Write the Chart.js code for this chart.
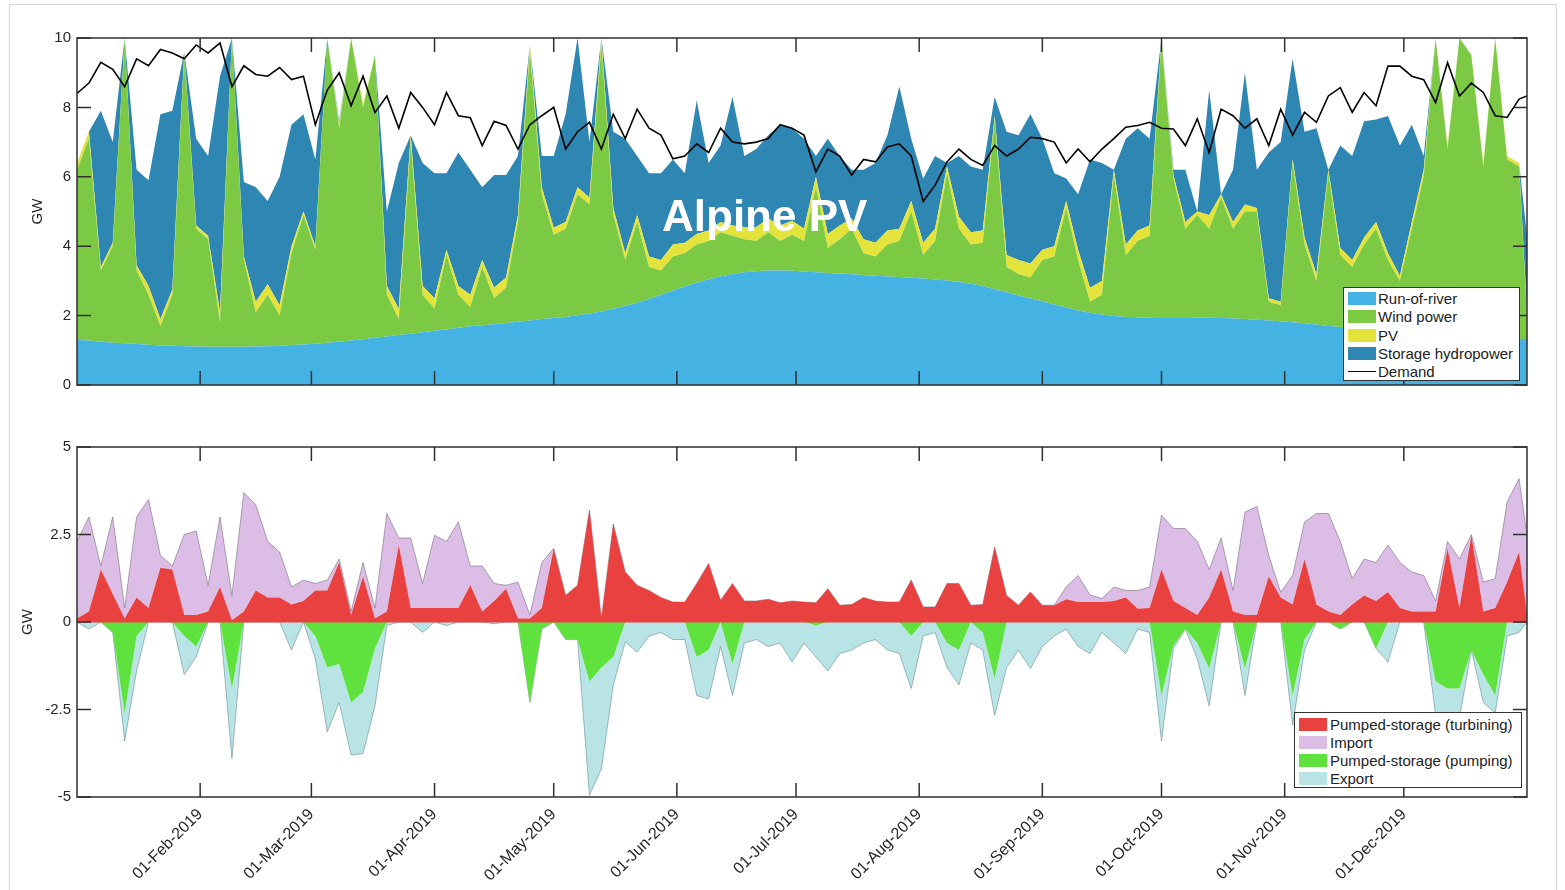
<!DOCTYPE html>
<html><head><meta charset="utf-8">
<script src="https://cdn.jsdelivr.net/npm/chart.js@4.4.1/dist/chart.umd.min.js"></script>
<style>
html,body{margin:0;padding:0;background:#fff;width:1565px;height:890px;overflow:hidden;font-family:"Liberation Sans",Arial,sans-serif;}
#frame{position:absolute;left:9px;top:4px;width:1548px;height:900px;border:1px solid #d6d6d6;box-sizing:border-box;}
#c1{position:absolute;left:0;top:0;}
#c2{position:absolute;left:0;top:410px;}
.legend{position:absolute;background:#fff;border:1px solid #333;box-sizing:border-box;}
.sw{position:absolute;width:28px;height:13px;}
.ln{position:absolute;width:28px;height:0;border-top:1.6px solid #000;}
.lt{position:absolute;font-size:15px;line-height:15px;color:#222;white-space:nowrap;}
#title{position:absolute;left:662px;top:194px;font:bold 44px "Liberation Sans",Arial,sans-serif;color:#fff;line-height:44px;white-space:nowrap;}
</style></head>
<body>
<div id="frame"></div>
<canvas id="c1" width="1565" height="400"></canvas>
<canvas id="c2" width="1565" height="480"></canvas>
<div id="title">Alpine PV</div>
<div class="legend" id="lg1" style="left:1343px;top:287px;width:177px;height:94px;"></div>
<div class="legend" id="lg2" style="left:1294px;top:712px;width:228px;height:76px;"></div>
<script>
// ---- data (GW), sampled every ~3 days, x = day of year 2019 ----
const days = [0,3,6,9,12,15,18,21,24,27,30,33,36,39,42,45,48,51,54,57,60,63,66,69,72,75,78,81,84,87,90,93,96,99,102,105,108,111,114,117,120,123,126,129,132,135,138,141,144,147,150,153,156,159,162,165,168,171,174,177,180,183,186,189,192,195,198,201,204,207,210,213,216,219,222,225,228,231,234,237,240,243,246,249,252,255,258,261,264,267,270,273,276,279,282,285,288,291,294,297,300,303,306,309,312,315,318,321,324,327,330,333,336,339,342,345,348,351,354,357,360,363,365];

const runOfRiver = [1.30,1.28,1.25,1.22,1.20,1.18,1.16,1.14,1.13,1.12,
1.11,1.10,1.10,1.10,1.10,1.11,1.12,1.13,1.15,1.17,
1.19,1.22,1.25,1.28,1.32,1.36,1.40,1.44,1.48,1.52,
1.56,1.60,1.65,1.69,1.72,1.75,1.79,1.82,1.86,1.90,
1.93,1.96,2.01,2.06,2.12,2.20,2.28,2.37,2.48,2.60,
2.72,2.84,2.95,3.05,3.13,3.20,3.25,3.28,3.30,3.30,
3.29,3.27,3.25,3.23,3.21,3.19,3.17,3.15,3.13,3.11,
3.09,3.07,3.04,3.01,2.97,2.92,2.85,2.76,2.67,2.58,
2.49,2.41,2.32,2.23,2.15,2.08,2.03,1.99,1.96,1.95,
1.94,1.93,1.93,1.93,1.94,1.94,1.93,1.92,1.90,1.88,
1.86,1.84,1.81,1.78,1.74,1.70,1.67,1.64,1.61,1.58,
1.55,1.52,1.50,1.48,1.46,1.44,1.42,1.40,1.38,1.36,
1.34,1.33,1.32];

const windPower = [4.90,5.82,2.05,2.78,8.80,2.12,1.44,0.56,1.47,8.38,
3.39,3.10,0.70,8.90,2.50,0.99,1.48,0.87,2.65,3.73,
2.71,8.78,6.15,8.72,6.68,8.14,1.20,0.46,5.52,1.08,
0.64,2.15,0.95,0.56,1.68,0.75,1.01,2.88,7.74,3.60,
2.40,2.54,3.49,3.14,7.68,2.70,1.32,2.33,0.92,0.70,
0.98,0.96,1.10,1.10,1.27,1.10,0.95,0.87,1.10,0.85,
1.04,0.88,2.45,0.72,0.99,1.31,0.63,0.55,0.92,1.04,
1.91,0.68,1.11,3.09,1.53,1.13,1.25,4.89,0.73,0.62,
0.61,1.19,1.38,2.87,1.45,0.32,0.57,4.06,1.79,2.20,
2.36,7.97,4.02,2.57,2.96,2.56,3.47,2.58,3.10,3.12,
0.54,0.46,4.59,2.27,1.26,4.40,2.08,1.76,2.44,2.92,
2.05,1.48,3.00,4.52,8.54,5.36,8.58,8.10,4.92,8.64,
5.16,4.97,0.68];

const pv = [0.2,0.2,0.1,0.1,0,0.15,0.25,0.2,0.15,0.1,
0.1,0.1,0.3,0,0.1,0.3,0.3,0.3,0.2,0.1,
0.1,0,0.1,0,0.1,0,0.25,0.3,0.2,0.25,
0.3,0.15,0.25,0.35,0.2,0.3,0.3,0.2,0.2,0.2,
0.2,0.2,0.2,0.2,0.2,0.2,0.2,0.2,0.3,0.3,
0.35,0.3,0.3,0.3,0.3,0.3,0.35,0.4,0.4,0.45,
0.4,0.35,0.3,0.4,0.4,0.3,0.4,0.4,0.4,0.35,
0.3,0.35,0.35,0.2,0.35,0.35,0.35,0.1,0.35,0.4,
0.4,0.3,0.3,0.2,0.3,0.4,0.4,0.15,0.3,0.3,
0.3,0.1,0.1,0.2,0.1,0.4,0.1,0.2,0.2,0.1,
0.1,0.1,0.1,0.2,0.2,0.1,0.2,0.2,0.2,0.2,
0.2,0.15,0.2,0.2,0,0.1,0,0,0.1,0,
0.1,0.1,0.1];

const storageHydro = [0,0,4.5,2.9,0,2.75,3.05,5.9,5.15,0,
2.5,2.3,6.8,0,2.15,3.3,2.4,3.7,3.5,2.8,
2.5,0,0.1,0,0,0,2.15,4.2,0,3.55,
3.6,2.2,3.85,3.6,2.1,3.25,2.95,1.7,0,0.9,
2.07,3.1,4.3,1.6,0,2.2,3.3,1.7,2.4,2.5,
2.45,2.0,3.85,1.95,2.2,3.7,2.05,2.25,2.4,2.9,
2.67,2.6,0.6,2.75,2.0,1.4,2.0,2.3,2.75,4.1,
1.8,1.85,2.1,0.1,1.75,1.9,1.75,0.55,3.55,3.6,
4.3,3.2,2.1,0.65,1.6,3.7,3.4,0,3.05,2.95,
2.5,0,0.15,1.5,0,3.6,0,1.5,3.8,1.1,
4.2,4.6,2.9,3.05,4.2,0,2.95,3.0,3.35,2.95,
3.95,3.75,2.8,0.4,0,0,0,0,0,0,
0,0,2.2];

const demand = [8.4,8.7,9.3,9.1,8.6,9.4,9.2,9.67,9.57,9.4,
9.8,9.57,9.86,8.6,9.2,8.95,8.9,9.15,8.8,8.9,
7.5,8.5,9.0,8.05,8.9,7.85,8.33,7.4,8.43,8.0,
7.5,8.43,7.76,7.7,6.9,7.6,7.48,6.8,7.5,7.76,
8.0,6.8,7.3,7.57,6.8,7.8,7.1,7.95,7.4,7.2,
6.52,6.6,6.95,6.7,7.4,7.0,6.95,7.0,7.1,7.5,
7.4,7.2,6.14,6.8,6.6,6.05,6.5,6.43,6.86,6.95,
6.6,5.29,5.76,6.43,6.8,6.5,6.33,6.9,6.6,6.8,
7.14,7.1,7.0,6.4,6.8,6.43,6.8,7.1,7.43,7.48,
7.57,7.4,7.38,6.9,7.67,6.7,7.95,7.76,7.4,7.67,
6.9,7.95,7.2,7.86,7.57,8.33,8.57,7.86,8.43,8.05,
9.19,9.19,8.9,8.8,8.14,9.29,8.33,8.7,8.43,7.76,
7.71,8.24,8.33];

const turbining = [0.1,0.3,1.5,0.8,0.1,0.7,0.4,1.55,1.5,0.2,
0.2,0.3,1.0,0.05,0.3,0.9,0.7,0.7,0.5,0.6,
0.9,0.9,1.7,0.2,1.3,0.1,0.3,2.2,0.4,0.4,
0.4,0.4,0.4,1.05,0.3,0.6,0.95,0.1,0.1,0.4,
2.1,0.76,1.05,3.2,0.1,2.8,1.43,1.05,0.9,0.7,
0.57,0.57,1.1,1.67,0.62,1.1,0.6,0.6,0.65,0.55,
0.6,0.57,0.55,0.95,0.48,0.5,0.7,0.6,0.57,0.57,
1.2,0.43,0.43,1.1,1.1,0.48,0.5,2.14,0.76,0.48,
0.86,0.48,0.48,0.65,0.57,0.57,0.57,0.6,0.7,0.38,
0.4,1.5,0.6,0.4,0.2,0.7,1.5,0.3,0.2,0.2,
1.3,0.7,0.5,1.8,0.5,0.3,0.2,0.5,0.76,0.6,
0.86,0.4,0.3,0.3,0.3,2.1,0.4,2.48,0.3,0.4,
1.14,2.0,0.2];

const imports = [2.2,2.7,0.1,2.2,0.3,2.3,3.1,0.35,0.1,2.3,
2.4,0.75,2.0,0.71,3.4,2.45,1.6,1.3,0.5,0.6,
0.2,0.3,0.1,0.1,0.4,0.3,2.8,0.2,2.0,0.7,
2.08,1.9,2.46,0.55,1.3,0.5,0.1,1.04,0.1,1.3,
0,0,0,0,0,0,0,0,0,0,
0,0,0,0,0,0,0,0,0,0,
0,0,0,0,0,0,0,0,0,0,
0,0,0,0,0,0,0,0,0,0,
0,0,0,0.35,0.76,0.2,0.1,0.4,0.2,0.52,
0.6,1.55,2.07,2.27,2.1,0.8,0.9,0.6,2.94,3.1,
0.6,0.15,0.83,1.06,2.6,2.8,2.1,0.74,1.04,1.1,
1.34,1.3,1.13,1.03,0.3,0.2,1.4,0.02,0.84,0.84,
2.29,2.1,2.3];

const pumping = [0,0,0,-0.3,-2.6,-0.4,0,0,0,-0.4,
-0.7,0,0,-1.9,0,0,0,0,0,0,
-0.4,-1.3,-1.2,-2.3,-2.0,-0.76,0,0,0,0,
0,0,0,0,0,0,0,0,-2.3,-0.2,
0,-0.5,-0.5,-1.7,-1.3,-1.0,0,0,0,0,
0,0,-1.0,-0.8,0,-1.2,0,0,0,0,
0,0,-0.1,0,0,0,0,0,0,0,
-0.4,0,0,-0.6,-0.8,0,-0.3,-1.62,0,0,
0,0,0,0,0,0,0,0,0,0,
0,-2.1,-0.67,-0.2,-0.6,-1.33,0,0,-1.33,0,
0,0,-2.1,-0.5,0,0,-0.2,0,0,-0.76,
0,0,0,0,-1.7,-1.9,-1.9,-0.8,-1.5,-2.1,
0,0,0];

const exports = [0,-0.2,0,0,-0.8,-1.0,0,0,0,-1.1,
-0.3,0,0,-2.0,0,0,0,0,-0.8,0,
-0.65,-1.84,-1.1,-1.5,-1.76,-1.64,-0.1,0,0,-0.3,
0,-0.1,0,0,0,-0.05,0,0,0,0,
0,0,0,-3.25,-2.9,-0.8,-0.57,-0.86,-0.4,-0.3,
-0.5,-0.5,-1.1,-1.4,-0.7,-0.9,-0.6,-0.5,-0.7,-0.6,
-1.14,-0.6,-0.9,-1.4,-0.9,-0.8,-0.6,-0.5,-0.8,-0.9,
-1.5,-0.4,-0.3,-0.7,-1.0,-0.6,-0.5,-1.05,-1.3,-0.8,
-1.33,-0.7,-0.4,-0.2,-0.7,-0.9,-0.3,-0.6,-0.9,-0.2,
-0.3,-1.3,-0.08,0,-0.45,-1.07,0,0,-0.77,0,
0,0,-0.85,-0.3,0,0,0,0,0,0,
-1.14,0,0,0,-0.97,-0.86,-0.86,0,-0.8,-0.5,
-0.4,-0.3,0];

const monthTicks = [31,59,90,120,151,181,212,243,273,304,334];
const tickLabels = ['01-Feb-2019','01-Mar-2019','01-Apr-2019','01-May-2019','01-Jun-2019','01-Jul-2019','01-Aug-2019','01-Sep-2019','01-Oct-2019','01-Nov-2019','01-Dec-2019'];

// ---- styles ----
const FONT = '"Liberation Sans", Arial, sans-serif';
const TXT = '#262626';
const C = {
  ror: '#44b3e4', wind: '#7cc943', pv: '#e3e33c', sto: '#2e86b3',
  turb: '#e8413f', imp: '#dcbde6', pump: '#5fe23e', exp: '#b8e4e6'
};
const pts = arr => days.map((d, i) => ({x: d, y: arr[i]}));

const framePlugin = {
  id: 'frame',
  afterDraw(chart, args, opts) {
    const {ctx, chartArea: a} = chart;
    const x = chart.scales.x, y = chart.scales.y;
    ctx.save();
    if (opts.zeroLine) {
      const py = y.getPixelForValue(0);
      ctx.strokeStyle = C.turb; ctx.lineWidth = 1.2;
      ctx.beginPath(); ctx.moveTo(a.left, py); ctx.lineTo(a.right, py); ctx.stroke();
    }
    ctx.strokeStyle = '#2f2f2f'; ctx.lineWidth = 1.5;
    const L = 14;
    ctx.beginPath();
    x.ticks.forEach(t => {
      const px = x.getPixelForValue(t.value);
      ctx.moveTo(px, a.bottom); ctx.lineTo(px, a.bottom - L);
      ctx.moveTo(px, a.top); ctx.lineTo(px, a.top + L);
    });
    y.ticks.forEach(t => {
      const py = y.getPixelForValue(t.value);
      ctx.moveTo(a.left, py); ctx.lineTo(a.left + L, py);
      ctx.moveTo(a.right, py); ctx.lineTo(a.right - L, py);
    });
    ctx.stroke();
    ctx.strokeRect(a.left, a.top, a.right - a.left, a.bottom - a.top);
    ctx.restore();
  }
};

function area(label, data, color, fill, stack, extra) {
  return Object.assign({label, data: pts(data), backgroundColor: color, borderColor: color,
    borderWidth: 0, fill, stack, order: 1, pointRadius: 0, tension: 0}, extra || {});
}

const xBase = {
  type: 'linear', min: 0, max: 365,
  afterBuildTicks: s => { s.ticks = monthTicks.map(v => ({value: v})); },
  grid: {display: false, drawTicks: false}, border: {display: false}
};

new Chart(document.getElementById('c1'), {
  type: 'line',
  data: {datasets: [
    area('Run-of-river', runOfRiver, C.ror, 'origin', 'gen'),
    area('Wind power', windPower, C.wind, '-1', 'gen'),
    area('PV', pv, C.pv, '-1', 'gen'),
    area('Storage hydropower', storageHydro, C.sto, '-1', 'gen'),
    {label: 'Demand', data: pts(demand), stack: 'demand', fill: false, borderColor: '#000',
     borderWidth: 1.6, pointRadius: 0, tension: 0, order: 0}
  ]},
  options: {
    responsive: false, animation: false, devicePixelRatio: 1,
    layout: {padding: {left: 0, right: 38, top: 38, bottom: 12}},
    plugins: {legend: {display: false}, tooltip: {enabled: false}, frame: {zeroLine: false}},
    scales: {
      x: Object.assign({}, xBase, {ticks: {display: false}, afterFit: s => { s.height = 0; }}),
      y: {stacked: true, min: 0, max: 10,
        afterFit: s => { s.width = 77; },
        ticks: {stepSize: 2, padding: 6, color: TXT, font: {size: 15, family: FONT}},
        grid: {display: false, drawTicks: false}, border: {display: false},
        title: {display: true, text: 'GW', color: TXT, font: {size: 15, family: FONT}, padding: {top: 29, bottom: 0}}
      }
    }
  },
  plugins: [framePlugin]
});

new Chart(document.getElementById('c2'), {
  type: 'line',
  data: {datasets: [
    area('Pumped-storage (turbining)', turbining, C.turb, 'origin', 'pos'),
    area('Import', imports, C.imp, '-1', 'pos', {borderColor: 'rgba(120,108,130,0.85)', borderWidth: 0.7}),
    area('Pumped-storage (pumping)', pumping, C.pump, 'origin', 'neg'),
    area('Export', exports, C.exp, '-1', 'neg', {borderColor: 'rgba(105,140,145,0.85)', borderWidth: 0.7})
  ]},
  options: {
    responsive: false, animation: false, devicePixelRatio: 1,
    layout: {padding: {left: 0, right: 38, top: 37, bottom: 0}},
    plugins: {legend: {display: false}, tooltip: {enabled: false}, frame: {zeroLine: true}},
    scales: {
      x: Object.assign({}, xBase, {
        ticks: {display: true, autoSkip: false, maxRotation: 45, minRotation: 45, padding: 8,
          color: TXT, font: {size: 16, family: FONT},
          callback: (v, i) => tickLabels[i]},
        afterFit: s => { s.height = 93; }
      }),
      y: {stacked: true, min: -5, max: 5,
        afterFit: s => { s.width = 77; },
        ticks: {stepSize: 2.5, padding: 6, color: TXT, font: {size: 15, family: FONT}},
        grid: {display: false, drawTicks: false}, border: {display: false},
        title: {display: true, text: 'GW', color: TXT, font: {size: 15, family: FONT}, padding: {top: 19, bottom: 0}}
      }
    }
  },
  plugins: [framePlugin]
});

// ---- legends (HTML) ----
function buildLegend(id, items, pitch, top0, textLeft) {
  const box = document.getElementById(id);
  items.forEach((it, i) => {
    const t = top0 + i * pitch;
    if (it.line) {
      const l = document.createElement('div'); l.className = 'ln';
      l.style.left = '4px'; l.style.top = (t + 6) + 'px'; box.appendChild(l);
    } else {
      const s = document.createElement('div'); s.className = 'sw';
      s.style.left = '4px'; s.style.top = t + 'px'; s.style.background = it.color; box.appendChild(s);
    }
    const tx = document.createElement('div'); tx.className = 'lt';
    tx.style.left = textLeft + 'px'; tx.style.top = (t - 1) + 'px'; tx.textContent = it.label;
    box.appendChild(tx);
  });
}
buildLegend('lg1', [
  {label: 'Run-of-river', color: C.ror}, {label: 'Wind power', color: C.wind},
  {label: 'PV', color: C.pv}, {label: 'Storage hydropower', color: C.sto},
  {label: 'Demand', line: true}
], 18.3, 4, 34);
buildLegend('lg2', [
  {label: 'Pumped-storage (turbining)', color: C.turb}, {label: 'Import', color: C.imp},
  {label: 'Pumped-storage (pumping)', color: C.pump}, {label: 'Export', color: C.exp}
], 18, 5, 35);
</script>
</body></html>
